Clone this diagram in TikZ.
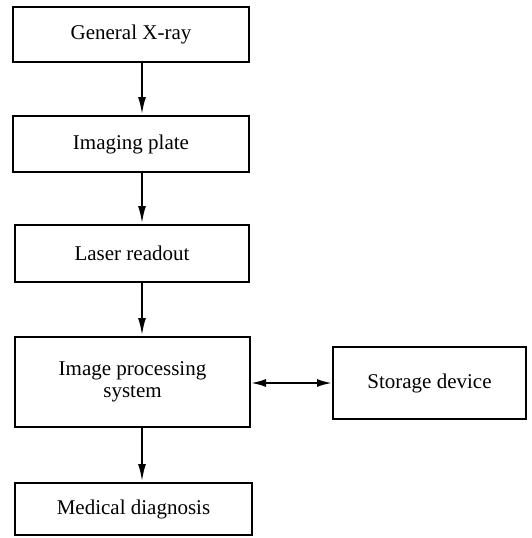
\documentclass[tikz,border=0pt]{standalone}
\usepackage{fontspec}
\setmainfont{Liberation Serif}
\usetikzlibrary{arrows.meta}
\begin{document}
\begin{tikzpicture}[x=1pt,y=-1pt,
  box/.style={draw=black, line width=2pt, fill=white, inner sep=0pt, align=center,
    font=\fontsize{21}{22}\selectfont},
  arr/.style={line width=2.4pt, -{Latex[length=18pt,width=8pt]}},
  darr/.style={line width=2pt, {Latex[length=15pt,width=8pt]}-{Latex[length=15pt,width=8pt]}}]
\useasboundingbox (0,0) rectangle (531,538);
\node[box, minimum width=236pt, minimum height=55pt] (a) at (131,34.5) {General X-ray};
\node[box, minimum width=236pt, minimum height=56pt] (b) at (131,144) {Imaging plate};
\node[box, minimum width=234pt, minimum height=57pt] (c) at (132,253.5) {Laser readout};
\node[box, minimum width=235pt, minimum height=90pt] (d) at (132.5,382) {Image processing\\system};
\node[box, minimum width=237pt, minimum height=52pt] (e) at (133.5,509) {Medical diagnosis};
\node[box, minimum width=193pt, minimum height=72pt] (s) at (429.5,383) {Storage device};
\coordinate (col) at (142,0);
\draw[arr] (a.south -| col) -- (b.north -| col);
\draw[arr] (b.south -| col) -- (c.north -| col);
\draw[arr] (c.south -| col) -- (d.north -| col);
\draw[arr] (d.south -| col) -- (e.north -| col);
\draw[darr] (d.east |- s.west) -- (s.west);
\end{tikzpicture}
\end{document}
